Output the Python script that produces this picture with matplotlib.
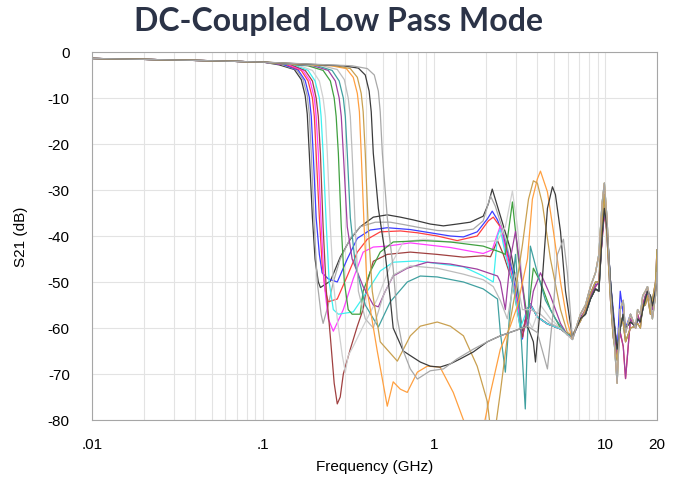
import matplotlib.pyplot as plt
from matplotlib.ticker import LogLocator, NullFormatter

plt.rcParams['axes.unicode_minus'] = False

# ---- data (frequency in GHz, S21 in dB) ----

# passband, shared by every trace
f_head = [0.01, 0.02, 0.05, 0.1]
db_head = [-1.4, -1.6, -1.9, -2.2]

# 3.5 - 6 GHz part shared by the low-cutoff bundle
f_mid = [3.50, 3.64, 4.00, 4.58, 5.46, 5.99]
db_mid = [-55.9, -54.8, -57.6, -59.1, -60.2, -61.3]

# 6.4 - 20 GHz, where all traces pile up
f_tail = [6.41, 7.14, 7.64, 8.17, 8.74, 9.15, 9.55, 9.85, 10.2, 10.7, 11.1, 11.7, 12.2,
          12.7, 13.1, 14.0, 15.0, 15.4, 16.0, 16.5, 17.1, 17.6, 18.3, 18.8, 19.6, 20.0]
db_tail_a = [-62, -58, -57, -53.7, -51.5, -52, -40, -34, -38, -50, -57.4, -64.6, -60,
             -57, -60, -58.7, -59.6, -58, -58.7, -56, -53.7, -52, -53, -55.2, -52, -50]
db_tail_b = [-62.5, -57, -55, -51, -48, -44, -33, -28.5, -36, -52, -60, -72, -56,
             -54, -61, -57, -60, -56, -57, -53, -52, -51, -54, -58, -53, -48]
db_tail_c = [-61.5, -58.5, -56, -52.5, -50, -50, -38, -31, -40, -54, -62, -67, -58,
             -59, -63, -60, -59.6, -59, -60, -55, -55, -53, -57, -54, -50, -43]
db_tail_d = [-62, -58, -56, -53, -51, -50, -41, -35, -39, -52, -59, -66, -61,
             -64, -71, -58, -60, -57, -59, -55, -53, -52, -54, -56, -51, -49]
db_tail_e = [-62.5, -57.5, -56.5, -52.5, -50.5, -50.5, -40, -35, -38, -50, -56, -65, -52,
             -57, -60, -57, -60, -58.5, -58, -56, -53, -52.5, -53.5, -55, -52, -51]

f_black1 = [0.124, 0.152, 0.167, 0.176, 0.181, 0.186, 0.194, 0.201, 0.210, 0.216, 0.247, 0.282,
            0.323, 0.369, 0.440, 0.531, 0.633, 0.753, 0.947, 1.13, 1.36, 1.62, 1.93, 2.07, 2.18,
            2.43, 2.78, 3.06, 3.27]
db_black1 = [-2.8, -3.8, -6.0, -9.5, -13.5, -22, -36, -45, -50, -51.2, -49.8, -44.6, -40.7, -38,
             -35.9, -35.4, -35.9, -36.5, -37.4, -37.8, -37.4, -37, -35.7, -33, -29.8, -35.6,
             -42.8, -51.5, -61.3]

f_gray1 = [0.127, 0.156, 0.171, 0.181, 0.186, 0.191, 0.199, 0.207, 0.218, 0.224, 0.240, 0.257,
           0.282, 0.323, 0.369, 0.452, 0.553, 0.659, 0.828, 1.04, 1.36, 1.69, 1.93, 2.13, 2.27,
           2.53, 2.86, 3.10, 3.27]
db_gray1 = [-2.7, -3.8, -6.0, -9.5, -13.5, -22, -38, -50, -57, -59, -55, -50, -45, -40.5, -38,
            -37, -37, -37.5, -38.2, -38.8, -39, -38.5, -36.7, -31.3, -33.5, -39, -47, -55, -62]

f_blue = [0.131, 0.160, 0.176, 0.186, 0.191, 0.196, 0.204, 0.213, 0.221, 0.240, 0.271, 0.310,
          0.355, 0.422, 0.531, 0.724, 0.947, 1.24, 1.48, 1.78, 2.04, 2.18, 2.34, 2.53, 2.90,
          3.18, 3.27]
db_blue = [-2.7, -3.9, -6.2, -9.8, -14, -22, -36, -44, -48, -49.3, -50, -45, -40.5, -38.7,
           -38.2, -38.6, -39.3, -40, -40.2, -39.1, -36.3, -34.6, -36.5, -40, -48.7, -58.7, -62.4]

f_red = [0.136, 0.167, 0.183, 0.194, 0.199, 0.204, 0.213, 0.221, 0.231, 0.240, 0.271, 0.310,
         0.355, 0.406, 0.483, 0.633, 0.796, 1.04, 1.36, 1.78, 2.07, 2.21, 2.43, 2.67, 3.06, 3.27]
db_red = [-2.7, -4.0, -6.3, -10, -14, -22, -36, -46, -52, -54.3, -53.7, -48.7, -43.5, -40.7,
          -39.1, -38.9, -39.3, -40, -41, -40, -36.7, -35.9, -38, -44, -55, -62]

f_magenta = [0.140, 0.171, 0.188, 0.199, 0.204, 0.210, 0.218, 0.227, 0.240, 0.257, 0.294, 0.336,
             0.384, 0.440, 0.531, 0.724, 0.947, 1.24, 1.62, 1.93, 2.18, 2.27, 2.43, 2.67, 3.06,
             3.27]
db_magenta = [-2.7, -4.0, -6.3, -10, -14, -22, -37, -50, -58, -60.7, -56, -49.3, -43.5, -42.4,
              -42.2, -41.5, -42, -42.5, -43.3, -43.8, -43, -41, -37.8, -45, -55, -62]

f_darkred = [0.144, 0.176, 0.194, 0.204, 0.210, 0.216, 0.224, 0.234, 0.247, 0.260, 0.271, 0.282,
             0.294, 0.323, 0.355, 0.384, 0.406, 0.440, 0.531, 0.724, 1.04, 1.48, 1.93, 2.13,
             2.34, 2.53, 2.86, 3.18, 3.27]
db_darkred = [-2.7, -4.0, -6.3, -10, -14, -22, -38, -52, -62, -72, -76.5, -75, -70, -64.6,
              -59.6, -55.9, -50, -45.5, -44, -43.5, -44, -44.6, -44.3, -44.5, -41, -44, -50,
              -60, -62]

f_cyan = [0.150, 0.183, 0.201, 0.213, 0.218, 0.224, 0.234, 0.243, 0.257, 0.275, 0.336, 0.406,
          0.483, 0.575, 0.796, 1.04, 1.48, 1.93, 2.21, 2.34, 2.43, 2.60, 2.86, 3.18]
db_cyan = [-2.7, -4.0, -6.3, -10, -14, -22, -38, -50, -56, -57, -56.5, -52, -47.6, -45.7,
           -45.4, -46, -46.7, -48.7, -50, -40, -38.5, -44, -50, -60]

f_ltgray1 = [0.158, 0.194, 0.213, 0.224, 0.231, 0.237, 0.247, 0.257, 0.271, 0.290, 0.302, 0.314,
             0.336, 0.384, 0.464, 0.553, 0.659, 0.863, 1.24, 1.93, 2.34, 2.60, 2.86, 3.06, 3.27,
             3.50, 3.74, 4.17, 4.77, 5.46, 5.99]
db_ltgray1 = [-2.8, -4.0, -6.3, -10, -14, -22, -38, -50, -58, -66, -69.6, -66, -64, -59.6,
              -53.7, -46.5, -41.3, -40.7, -41.3, -41.3, -41, -38, -30.2, -38, -50, -58, -60,
              -55, -58, -60, -61.5]

f_green = [0.183, 0.224, 0.247, 0.260, 0.267, 0.275, 0.286, 0.298, 0.314, 0.331, 0.369, 0.384,
           0.422, 0.483, 0.575, 0.863, 1.24, 1.93, 2.43, 2.60, 2.86, 3.10, 3.50, 3.79, 4.17,
           4.77, 5.46, 5.99]
db_green = [-3.0, -4.0, -6.3, -10, -14, -22, -38, -50, -56, -57, -57, -52, -47.8, -43.5,
            -41.3, -41, -41.3, -42.2, -43.5, -44, -32.6, -45, -58, -47, -50, -56, -60, -61.5]

f_purple = [0.196, 0.240, 0.264, 0.278, 0.286, 0.294, 0.310, 0.331, 0.384, 0.440, 0.471, 0.517,
            0.575, 0.695, 0.910, 1.24, 1.78, 2.34, 2.43, 2.60, 2.78, 2.98, 3.18, 3.50, 3.79,
            4.17, 4.77, 5.46, 5.99]
db_purple = [-3.0, -4.0, -6.3, -10, -14, -22, -38, -45, -51, -55, -55.4, -52, -48.7, -47,
             -45.7, -46.1, -47.2, -48.7, -50, -56, -45, -39, -47, -60, -52, -48, -53, -59, -61.5]

f_teal = [0.207, 0.253, 0.278, 0.294, 0.302, 0.310, 0.323, 0.345, 0.395, 0.471, 0.553, 0.695,
          0.828, 1.04, 1.48, 1.93, 2.34, 2.43, 2.60, 2.78, 2.98, 3.14, 3.40, 3.64, 4.00, 4.46,
          5.10, 5.84]
db_teal = [-3.0, -4.0, -6.3, -10, -14, -22, -36, -46, -55, -59.8, -54.3, -50, -48.7, -48.9,
           -50, -51.5, -53.7, -60.9, -69.6, -55, -44, -55, -77.6, -42.2, -48, -54, -58, -61]

f_ltgray2 = [0.221, 0.271, 0.298, 0.314, 0.323, 0.331, 0.345, 0.360, 0.395, 0.440, 0.503, 0.575,
             0.724, 1.04, 1.48, 1.93, 2.21, 2.43, 2.67, 2.98, 3.27, 3.64, 4.17, 4.77, 5.46, 5.99]
db_ltgray2 = [-3.0, -3.8, -6.0, -10, -14, -22, -38, -52, -58, -60, -53, -48.5, -46.5, -47,
              -48.3, -49.5, -51, -54, -58, -48, -56, -56, -57, -59, -60, -61.5]

f_orange = [0.250, 0.306, 0.336, 0.355, 0.365, 0.374, 0.389, 0.406, 0.464, 0.531, 0.575, 0.633,
            0.695, 0.796, 0.910, 1.08, 1.29, 1.48, 1.62, 1.93, 2.13, 2.43, 2.78, 3.06, 3.50,
            3.74, 4.00, 4.17, 4.58, 4.97, 5.46, 5.99]
db_orange = [-3.0, -3.6, -5.5, -9, -13, -22, -38, -52, -65, -77, -71.7, -73.3, -74, -69.6,
             -68.3, -68.5, -74, -80, -84, -82, -74, -64.6, -59.6, -55.2, -45, -32, -27.6,
             -25.9, -30.4, -39.1, -50, -58.7]

f_tan = [0.264, 0.323, 0.355, 0.374, 0.384, 0.395, 0.411, 0.434, 0.483, 0.608, 0.724, 0.828,
         1.04, 1.24, 1.48, 1.78, 2.04, 2.13, 2.27, 2.43, 2.67, 2.98, 3.27, 3.55, 3.79, 4.00,
         4.28, 4.77, 5.46, 5.99]
db_tan = [-3.0, -3.6, -5.5, -9, -13, -22, -38, -52, -63, -67.2, -61.7, -59.6, -58.7, -59.6,
          -61.7, -68.3, -76, -82, -82, -74, -62, -52, -42, -32, -28, -28.5, -33, -45, -56, -61]

f_black2 = [0.294, 0.360, 0.395, 0.416, 0.428, 0.440, 0.471, 0.517, 0.553, 0.575, 0.659, 0.724,
            0.828, 0.947, 1.08, 1.24, 1.42, 1.69, 2.04, 2.43, 2.90, 3.50, 3.79, 3.90, 4.17,
            4.58, 4.90, 5.10, 5.46, 5.84]
db_black2 = [-3.0, -3.5, -5.0, -8.5, -13, -22, -34, -44, -53.7, -60, -65, -66, -67.4, -68.3,
             -68.5, -67.8, -66.7, -65.2, -63, -61.7, -60.7, -59.6, -63, -67.4, -55, -34, -29.3,
             -31, -39, -52]

f_gray2 = [0.331, 0.406, 0.446, 0.471, 0.483, 0.497, 0.531, 0.575, 0.608, 0.659, 0.724, 0.796,
           0.947, 1.13, 1.36, 1.69, 2.04, 2.43, 2.90, 3.50, 4.00, 4.58, 4.90, 5.24, 5.68, 5.99]
db_gray2 = [-3.0, -3.6, -5.0, -8.5, -13, -22, -36, -47, -58, -65, -68.9, -71.1, -69.3, -68.9,
            -66.7, -64.6, -63, -61.7, -60.7, -59.6, -61, -68.9, -58, -44, -40.7, -48]

# ---- figure ----
fig = plt.figure(figsize=(6.77, 4.81), dpi=100)
ax = fig.add_axes([92 / 677, 1 - 421 / 481, 565 / 677, 368 / 481])

traces = [
    (f_black1 + f_mid, db_black1 + db_mid, db_tail_a, '#3c3c3c'),
    (f_gray1 + f_mid, db_gray1 + db_mid, db_tail_b, '#a8a8a8'),
    (f_blue + f_mid, db_blue + db_mid, db_tail_e, '#3d3dff'),
    (f_red + f_mid, db_red + db_mid, db_tail_d, '#ff4040'),
    (f_magenta + f_mid, db_magenta + db_mid, db_tail_c, '#ff40ff'),
    (f_darkred + f_mid, db_darkred + db_mid, db_tail_a, '#a04040'),
    (f_cyan + f_mid, db_cyan + db_mid, db_tail_b, '#3ff0f0'),
    (f_ltgray1, db_ltgray1, db_tail_b, '#d0d0d0'),
    (f_green, db_green, db_tail_c, '#40a040'),
    (f_purple, db_purple, db_tail_d, '#a040a0'),
    (f_teal, db_teal, db_tail_a, '#40a0a0'),
    (f_ltgray2, db_ltgray2, db_tail_b, '#bcbcbc'),
    (f_orange, db_orange, db_tail_b, '#ffa040'),
    (f_tan, db_tan, db_tail_c, '#c9a050'),
    (f_black2, db_black2, db_tail_a, '#3c3c3c'),
    (f_gray2, db_gray2, db_tail_b, '#a8a8a8'),
]

for f, db, db_t, color in traces:
    ax.plot(f_head + f + f_tail, db_head + db + db_t, color=color, lw=0.9)

ax.set_xscale('log')
ax.set_xlim(0.01, 20)
ax.set_ylim(-80, 0)

ax.set_xticks([0.01, 0.1, 1, 10, 20])
ax.set_xticklabels(['.01', '.1', '1', '10', '20'])
ax.xaxis.set_minor_locator(LogLocator(base=10, subs=range(2, 10)))
ax.xaxis.set_minor_formatter(NullFormatter())
ax.set_yticks(range(-80, 1, 10))

ax.grid(which='both', axis='x', color='#e3e3e3', lw=0.8)
ax.grid(which='major', axis='y', color='#e3e3e3', lw=0.8)
ax.set_axisbelow(True)
ax.tick_params(which='both', length=0)
ax.tick_params(axis='x', pad=12, labelsize=11)
ax.tick_params(axis='y', pad=16, labelsize=11)
for s in ax.spines.values():
    s.set_color('#a6a6a6')

for lab in ax.get_xticklabels() + ax.get_yticklabels():
    lab.set_family('Liberation Sans')

ax.set_xlabel('Frequency (GHz)', fontsize=11, family='Liberation Sans', labelpad=6)
ax.set_ylabel('S21 (dB)', fontsize=11, family='Liberation Sans', labelpad=14)

fig.text(0.5, 1 - 22 / 481, 'DC-Coupled Low Pass Mode', ha='center', va='center',
         fontsize=23, fontweight='bold', family='Lato', color='#2b3347')

fig.savefig('out.png', dpi=100)
